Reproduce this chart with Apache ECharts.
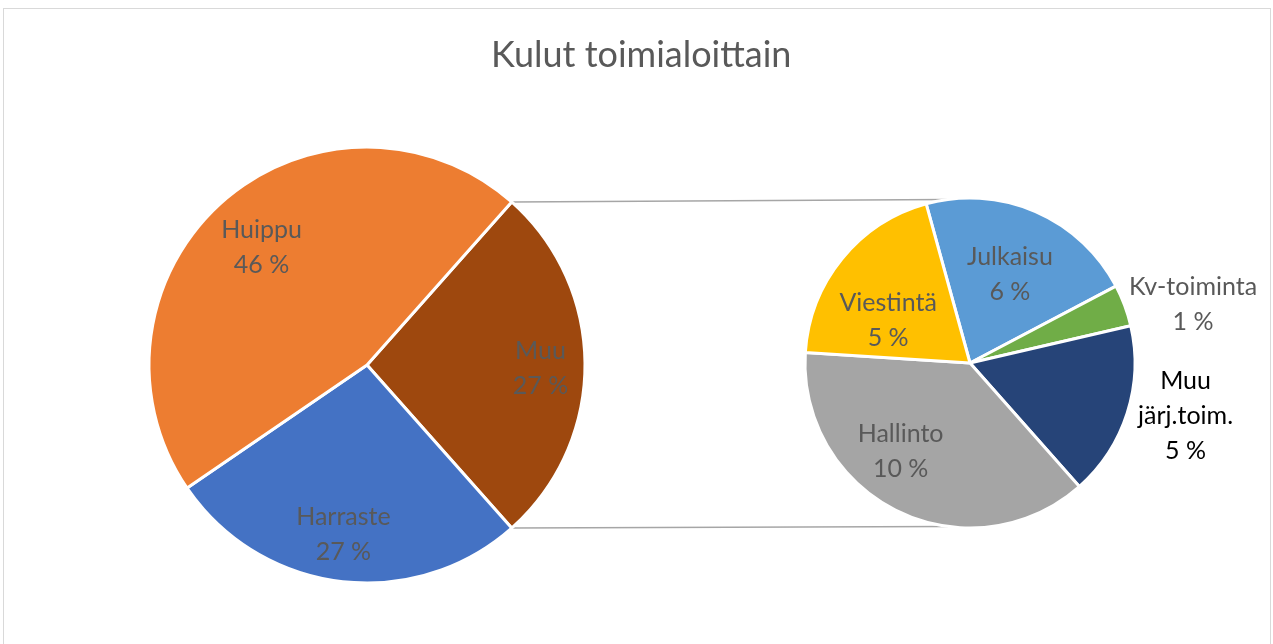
<!DOCTYPE html>
<html>
<head>
<meta charset="utf-8">
<script src="https://cdn.jsdelivr.net/npm/echarts@6/dist/echarts.min.js"></script>
<style>
body{margin:0;background:#fff;}
#frame{position:absolute;left:3px;top:8px;width:1266px;height:700px;border:1px solid #d9d9d9;}
#main{position:absolute;left:0;top:0;width:1273px;height:644px;}
</style>
</head>
<body>
<div id="frame"></div>
<div id="main"></div>
<script>
// pääpiirakka
var mainNames = ['Muu', 'Harraste', 'Huippu'];
var mainValues = [26.9, 27.0, 46.1];
var mainColors = ['#9E480E', '#4472C4', '#ED7D31'];

// Muu-osuuden erittely
var subNames = ['Julkaisu', 'Kv-toiminta', 'Muu järj.toim.', 'Hallinto', 'Viestintä'];
var subLabels = ['Julkaisu', 'Kv-toiminta', 'Muu\njärj.toim.', 'Hallinto', 'Viestintä'];
var subValues = [5.8, 1.1, 4.6, 10.1, 5.3];
var subColors = ['#5B9BD5', '#70AD47', '#264478', '#A5A5A5', '#FFC000'];
var subOutside = [false, true, true, false, false];
var subLabelColors = ['#595959', '#595959', '#000000', '#595959', '#595959'];

// tekstien siirrot (dx, dy) kuten Excelin "paras sovitus"
var mainShift = [[5, 3], [-3, 2], [6, 9]];
var subShift = [[-2, 8], [7, 22], [-4, -17], [-23, -6], [0, 24]];

var FONT = 'Lato';
var mainC = [367, 365], mainR = 218;
var subC = [970, 363], subR = 165;

var total = 0;
for (var i = 0; i < mainValues.length; i++) total += mainValues[i];
var mainStart = mainValues[0] / total * 180; // Muu keskitetään oikealle
var subStart = 105.4;

function pct(v) {
	return Math.round(v) + ' %';
}

//vaakasiirto paddingilla, pystysiirto tyhjällä rivillä
function shiftLabel(s) {
	var dx = s[0], dy = s[1];
	return {
		padding: [0, dx < 0 ? -2 * dx : 0, 0, dx > 0 ? 2 * dx : 0],
		rich: {sp: {fontSize: 1, lineHeight: Math.max(1, 2 * Math.abs(dy))}}
	};
}

function labelText(text, dy) {
	if (dy > 0) return '{sp| }\n' + text;
	if (dy < 0) return text + '\n{sp| }';
	return text;
}

function buildData(names, values, colors, fn) {
	var arr = [];
	for (var i = 0; i < values.length; i++) {
		var d = {name: names[i], value: values[i]};
		if (colors) d.itemStyle = {color: colors[i]};
		if (fn) fn(d, i);
		arr.push(d);
	}
	return arr;
}

var hidden = {color: 'rgba(0,0,0,0)', borderWidth: 0};
var labelBase = {
	position: 'inside',
	fontFamily: FONT,
	fontSize: 25,
	lineHeight: 35,
	color: '#595959'
};

//liitosviivat
var a = mainStart * Math.PI / 180;
var b = 97.6 * Math.PI / 180;
var p1 = [mainC[0] + mainR * Math.cos(a), mainC[1] - mainR * Math.sin(a)];
var p2 = [mainC[0] + mainR * Math.cos(a), mainC[1] + mainR * Math.sin(a)];
var q1 = [subC[0] + subR * Math.cos(b), subC[1] - subR * Math.sin(b)];
var q2 = [subC[0] + subR * Math.cos(b), subC[1] + subR * Math.sin(b)];

var chart = echarts.init(document.getElementById('main'));
var option = {
	animation: false,
	title: {
		text: 'Kulut toimialoittain',
		left: 486,
		top: 32,
		textStyle: {fontFamily: FONT, fontSize: 36, fontWeight: 'normal', color: '#595959'}
	},
	graphic: [
		{type: 'line', shape: {x1: p1[0], y1: p1[1], x2: q1[0], y2: q1[1]}, style: {stroke: '#A6A6A6', lineWidth: 1.5}, z: 0},
		{type: 'line', shape: {x1: p2[0], y1: p2[1], x2: q2[0], y2: q2[1]}, style: {stroke: '#A6A6A6', lineWidth: 1.5}, z: 0}
	],
	series: [
		{
			type: 'pie', center: mainC, radius: mainR, startAngle: mainStart,
			silent: true, label: {show: false}, labelLine: {show: false},
			itemStyle: {borderColor: '#fff', borderWidth: 3},
			data: buildData(mainNames, mainValues, mainColors)
		},
		{
			type: 'pie', center: mainC, radius: [113, mainR], startAngle: mainStart,
			silent: true, itemStyle: hidden, labelLine: {show: false},
			label: Object.assign({}, labelBase, {formatter: function (p) {
				return labelText(p.name + '\n' + pct(p.value), mainShift[p.dataIndex][1]);
			}}),
			data: buildData(mainNames, mainValues, null, function (d, i) { d.label = shiftLabel(mainShift[i]); })
		},
		{
			type: 'pie', center: subC, radius: subR, startAngle: subStart,
			silent: true, label: {show: false}, labelLine: {show: false},
			itemStyle: {borderColor: '#fff', borderWidth: 3},
			data: buildData(subNames, subValues, subColors)
		},
		{
			type: 'pie', center: subC, radius: [40, subR], startAngle: subStart,
			silent: true, itemStyle: hidden, labelLine: {show: false},
			label: Object.assign({}, labelBase, {formatter: function (p) {
				return labelText(subLabels[p.dataIndex] + '\n' + pct(p.value), subShift[p.dataIndex][1]);
			}}),
			data: buildData(subNames, subValues, null, function (d, i) {
				d.label = Object.assign(shiftLabel(subShift[i]), {show: !subOutside[i]});
			})
		},
		{
			type: 'pie', center: subC, radius: [subR, 290], startAngle: subStart,
			silent: true, itemStyle: hidden, labelLine: {show: false},
			label: Object.assign({}, labelBase, {formatter: function (p) {
				return labelText(subLabels[p.dataIndex] + '\n' + pct(p.value), subShift[p.dataIndex][1]);
			}}),
			data: buildData(subNames, subValues, null, function (d, i) {
				d.label = Object.assign(shiftLabel(subShift[i]), {show: subOutside[i], color: subLabelColors[i]});
			})
		}
	]
};
chart.setOption(option);
</script>
</body>
</html>
